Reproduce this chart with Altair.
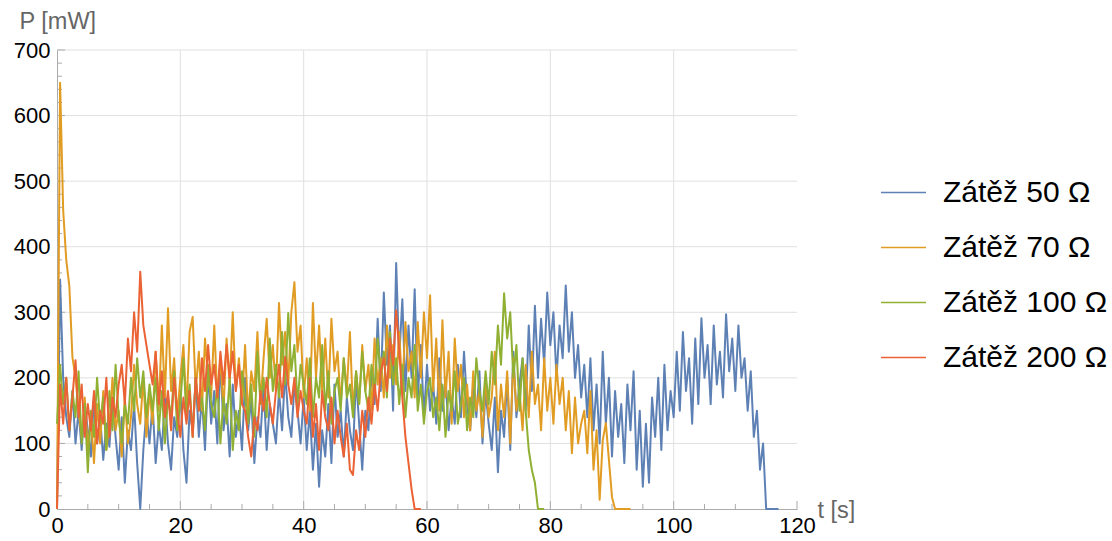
import altair as alt
import pandas as pd

# Sampling interval of the recorded power traces [s]
STEP = 0.5

# Power P [mW] sampled every STEP seconds, starting at t = 0
p_50 = [0, 350, 200, 140, 110, 180, 100, 150, 90, 160, 120,
        80, 170, 100, 140, 75, 130, 95, 170, 110, 60,
        140, 40, 120, 90, 160, 70, 0, 90, 150, 100,
        160, 70, 130, 90, 170, 100, 60, 140, 110, 180,
        90, 40, 150, 120, 200, 110, 170, 90, 210, 130,
        180, 100, 230, 120, 160, 80, 190, 110, 150, 90,
        200, 120, 170, 70, 140, 110, 190, 90, 160, 130,
        100, 180, 120, 210, 140, 110, 190, 150, 100, 170,
        90, 150, 60, 130, 34, 120, 80, 160, 70, 190,
        110, 150, 80, 170, 120, 90, 200, 130, 60, 150,
        120, 210, 160, 290, 180, 330, 220, 280, 150, 375,
        230, 320, 180, 280, 200, 335, 170, 250, 140, 220,
        150, 190, 130, 230, 150, 200, 120, 170, 130, 220,
        140, 240, 160, 120, 190, 140, 210, 100, 180, 130,
        90, 170, 56, 150, 110, 200, 90, 240, 140, 190,
        230, 150, 280, 180, 310, 200, 290, 220, 330, 250,
        300, 200, 280, 230, 341, 240, 300, 200, 250, 170,
        220, 140, 230, 120, 190, 100, 240, 130, 200, 80,
        180, 110, 160, 70, 190, 120, 210, 60, 150, 34,
        130, 40, 170, 110, 200, 90, 220, 120, 180, 140,
        240, 150, 270, 180, 230, 130, 260, 160, 291, 200,
        250, 160, 280, 190, 240, 170, 297, 210, 260, 180,
        280, 200, 230, 150, 210, 110, 150, 60, 100, 0,
        0, 0, 0, 0]

p_70 = [0, 650, 456, 380, 340, 232, 200, 150, 110, 170, 90,
        140, 70, 160, 100, 180, 90, 130, 200, 120, 150,
        80, 170, 100, 140, 220, 160, 130, 200, 110, 180,
        130, 240, 150, 280, 170, 306, 180, 230, 140, 200,
        250, 150, 270, 293, 180, 240, 150, 260, 200, 170,
        280, 170, 230, 150, 260, 190, 300, 180, 230, 160,
        250, 140, 210, 180, 270, 160, 230, 290, 200, 250,
        180, 314, 220, 270, 190, 300, 346, 240, 280, 170,
        230, 150, 314, 200, 280, 180, 260, 170, 290, 210,
        240, 160, 230, 180, 270, 150, 210, 160, 250, 180,
        220, 150, 260, 190, 230, 170, 280, 200, 250, 190,
        270, 180, 285, 210, 240, 170, 285, 200, 300, 230,
        326, 180, 260, 150, 288, 170, 240, 130, 260, 180,
        220, 140, 190, 120, 210, 150, 180, 110, 200, 140,
        170, 240, 120, 190, 140, 210, 100, 230, 150, 180,
        120, 220, 140, 240, 160, 190, 120, 230, 150, 200,
        130, 220, 160, 200, 120, 180, 85, 170, 100, 130,
        150, 85, 180, 60, 120, 14, 105, 131, 75, 18,
        0, 0, 0, 0, 0, 0]

p_100 = [130, 220, 160, 200, 120, 180, 140, 210, 100, 160, 56,
         150, 110, 200, 130, 170, 90, 180, 120, 220, 140,
         100, 160, 130, 200, 150, 230, 170, 210, 140, 190,
         150, 200, 120, 180, 100, 170, 140, 210, 120, 160,
         230, 140, 190, 110, 200, 150, 170, 120, 220, 160,
         140, 190, 100, 170, 130, 200, 90, 150, 120, 210,
         170, 130, 190, 110, 240, 160, 200, 140, 260, 180,
         220, 170, 270, 190, 299, 210, 250, 160, 220, 190,
         160, 230, 140, 200, 170, 250, 150, 210, 130, 180,
         200, 150, 230, 170, 190, 140, 210, 160, 240, 180,
         150, 220, 180, 260, 200, 240, 170, 270, 190, 230,
         160, 220, 140, 200, 170, 250, 150, 190, 130, 180,
         200, 140, 170, 120, 190, 110, 180, 150, 210, 130,
         160, 200, 120, 170, 140, 230, 180, 150, 210, 160,
         240, 190, 280, 220, 329, 260, 300, 200, 250, 150,
         230, 150, 90, 60, 40, 0,
         0, 0]

p_200 = [0, 190, 130, 200, 120, 170, 227, 140, 190, 110, 160,
         120, 180, 100, 150, 130, 200, 110, 170, 140, 190,
         220, 160, 260, 210, 300, 240, 362, 280, 250, 220,
         190, 240, 160, 210, 140, 180, 120, 200, 150, 110,
         170, 130, 180, 110, 200, 150, 230, 180, 250, 190,
         220, 170, 240, 190, 250, 200, 240, 180, 220, 160,
         150, 110, 80, 140, 120, 180, 150, 200, 160, 130,
         180, 220, 170, 232, 190, 160, 200, 140, 180, 150,
         130, 200, 110, 160, 90, 180, 140, 120, 170, 100,
         150, 110, 80, 130, 60, 52, 120, 90, 150, 110,
         170, 130, 190, 150, 210, 230, 180, 260, 220, 303,
         240, 170, 110, 70, 30, 0, 0, 0]

names = ["Zátěž 50 Ω", "Zátěž 70 Ω", "Zátěž 100 Ω", "Zátěž 200 Ω"]
colors = ["#5E81B5", "#E19C24", "#8FB032", "#EB6235"]
series = [p_50, p_70, p_100, p_200]

# Axis labels, grid lines and tick marks
x_labels = [0, 20, 40, 60, 80, 100, 120]
y_labels = [0, 100, 200, 300, 400, 500, 600, 700]
grid_t = [20, 40, 60, 80, 100]
grid_p = [100, 200, 300, 400, 500, 600, 700]
tick_t_major = [20, 40, 60, 80, 100, 120]
tick_t_minor = [5, 10, 15, 25, 30, 35, 45, 50, 55, 65, 70, 75, 85, 90, 95, 105, 110, 115]
tick_p_major = [100, 200, 300, 400, 500, 600, 700]
tick_p_minor = [v for v in range(20, 700, 20) if v % 100 != 0]

FONT = "Liberation Sans"
AXIS_GRAY = "#ababab"

frames = []
for name, vals in zip(names, series):
    frames.append(pd.DataFrame({
        "t": [i * STEP for i in range(len(vals))],
        "P": vals,
        "zatez": name,
    }))
df = pd.concat(frames, ignore_index=True)

x_scale = alt.Scale(domain=[0, 120], nice=False, zero=False)
y_scale = alt.Scale(domain=[0, 700], nice=False)

x_axis = alt.Axis(
    values=x_labels, ticks=False, grid=False, domainColor=AXIS_GRAY, domainWidth=1,
    labelFont=FONT, labelFontSize=22, labelColor="black", labelPadding=6,
    labelOverlap=False, labelFlush=False,
    title="t [s]", titleFont=FONT, titleFontSize=23.5, titleFontWeight="normal",
    titleColor="#666666", titleX=760, titleY=1, titleAlign="left",
    titleBaseline="middle", titleAngle=0,
)
y_axis = alt.Axis(
    values=y_labels, ticks=False, grid=False, domainColor=AXIS_GRAY, domainWidth=1,
    labelFont=FONT, labelFontSize=22, labelColor="black", labelPadding=7,
    labelOverlap=False, labelFlush=False,
    title="P [mW]", titleFont=FONT, titleFontSize=23.5, titleFontWeight="normal",
    titleColor="#666666", titleX=-38, titleY=-29, titleAlign="left",
    titleBaseline="middle", titleAngle=0,
)

X = alt.X("t:Q", scale=x_scale, axis=x_axis)
Y = alt.Y("P:Q", scale=y_scale, axis=y_axis)

color = alt.Color(
    "zatez:N",
    sort=names,
    scale=alt.Scale(domain=names, range=colors),
    legend=alt.Legend(
        title=None, orient="none", legendX=823, legendY=119, padding=0,
        symbolType="stroke", symbolSize=2025, symbolStrokeWidth=1.5,
        labelFont=FONT, labelFontSize=30, labelColor="black",
        labelOffset=16, rowPadding=16, labelLimit=400,
    ),
)

grid_v = alt.Chart(pd.DataFrame({"t": grid_t})).mark_rule(
    color="#e0e0e0", strokeWidth=1).encode(x=X)
grid_h = alt.Chart(pd.DataFrame({"P": grid_p})).mark_rule(
    color="#e0e0e0", strokeWidth=1).encode(y=Y)

# Ticks point inward from the axes
tx_major = alt.Chart(pd.DataFrame({"t": tick_t_major})).mark_rule(
    color=AXIS_GRAY).encode(x=X, y=alt.value(459), y2=alt.value(451))
tx_minor = alt.Chart(pd.DataFrame({"t": tick_t_minor})).mark_rule(
    color=AXIS_GRAY).encode(x=X, y=alt.value(459), y2=alt.value(454))
ty_major = alt.Chart(pd.DataFrame({"P": tick_p_major})).mark_rule(
    color=AXIS_GRAY).encode(y=Y, x=alt.value(0), x2=alt.value(8))
ty_minor = alt.Chart(pd.DataFrame({"P": tick_p_minor})).mark_rule(
    color=AXIS_GRAY).encode(y=Y, x=alt.value(0), x2=alt.value(5))

lines = [
    alt.Chart(df).transform_filter(alt.datum.zatez == n)
    .mark_line(strokeWidth=2, strokeJoin="round")
    .encode(x=X, y=Y, color=color)
    for n in names
]

chart = alt.layer(
    grid_v, grid_h, tx_major, tx_minor, ty_major, ty_minor, *lines
).properties(
    width=740,
    height=459,
    padding={"left": 57, "top": 50, "right": 315, "bottom": 32},
    autosize=alt.AutoSizeParams(type="none"),
    background="white",
).configure_view(stroke=None)

chart.save("out.html", embed_options={"renderer": "svg", "actions": False})
